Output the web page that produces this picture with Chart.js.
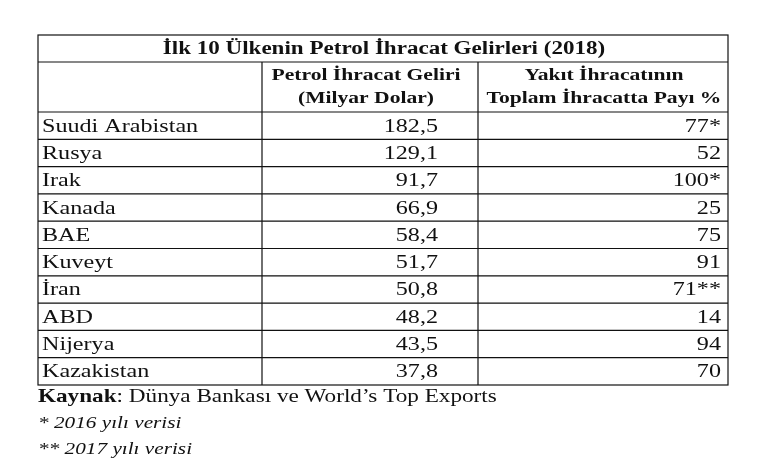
<!DOCTYPE html>
<html><head><meta charset="utf-8">
<script src="https://cdn.jsdelivr.net/npm/chart.js@4/dist/chart.umd.min.js"></script>
<style>html,body{margin:0;padding:0;background:#fff}</style></head>
<body><canvas id="c" width="768" height="469"></canvas>
<script>
const title = "İlk 10 Ülkenin Petrol İhracat Gelirleri (2018)";
const header2 = ["Petrol İhracat Geliri", "(Milyar Dolar)"];
const header3 = ["Yakıt İhracatının", "Toplam İhracatta Payı %"];
const countries = ["Suudi Arabistan","Rusya","Irak","Kanada","BAE","Kuveyt","İran","ABD","Nijerya","Kazakistan"];
const revenue = ["182,5","129,1","91,7","66,9","58,4","51,7","50,8","48,2","43,5","37,8"];
const share = ["77*","52","100*","25","75","91","71**","14","94","70"];
const sourceBold = "Kaynak";
const sourceText = ": Dünya Bankası ve World’s Top Exports";
const notes = ["* 2016 yılı verisi", "** 2017 yılı verisi"];

function txt(ctx, s, x, y, align, sx) {
  ctx.save(); ctx.translate(x, y); ctx.scale(sx, 1);
  ctx.textAlign = align; ctx.fillText(s, 0, 0); ctx.restore();
}

const tablePlugin = {
  id: 'table',
  afterDraw(chart) {
    const ctx = chart.ctx;
    const L = 38, R = 728, T = 35, c1 = 262, c2 = 478;
    const titleB = 62, headB = 112, rowH = 27.3, B = headB + rowH * countries.length;
    ctx.save();
    ctx.fillStyle = '#fff'; ctx.fillRect(0,0,768,469);
    ctx.strokeStyle = '#111'; ctx.lineWidth = 1.2; ctx.fillStyle = '#111';
    ctx.strokeRect(L, T, R - L, B - T);
    ctx.beginPath();
    ctx.moveTo(L, titleB); ctx.lineTo(R, titleB);
    ctx.moveTo(L, headB); ctx.lineTo(R, headB);
    for (let i = 1; i < countries.length; i++) { const y = headB + rowH * i; ctx.moveTo(L, y); ctx.lineTo(R, y); }
    ctx.moveTo(c1, titleB); ctx.lineTo(c1, B);
    ctx.moveTo(c2, titleB); ctx.lineTo(c2, B);
    ctx.stroke();
    ctx.textBaseline = 'middle';
    ctx.font = 'bold 18px "Liberation Serif"';
    txt(ctx, title, (L + R) / 2 + 1, (T + titleB) / 2 + 1, 'center', 1.28);
    ctx.font = 'bold 17px "Liberation Serif"';
    txt(ctx, header2[0], 366, 76, 'center', 1.27);
    txt(ctx, header2[1], 366, 99, 'center', 1.27);
    txt(ctx, header3[0], 604, 76, 'center', 1.27);
    txt(ctx, header3[1], 604, 99, 'center', 1.27);
    ctx.font = '19px "Liberation Serif"';
    countries.forEach((n, i) => {
      const y = headB + rowH * i + rowH / 2 + 1;
      txt(ctx, n, L + 4, y, 'left', 1.27);
      txt(ctx, revenue[i], 438, y, 'right', 1.27);
      txt(ctx, share[i], 721, y, 'right', 1.27);
    });
    ctx.font = 'bold 19px "Liberation Serif"';
    txt(ctx, sourceBold, L, 397, 'left', 1.22);
    const w = ctx.measureText(sourceBold).width * 1.22;
    ctx.font = '19px "Liberation Serif"';
    txt(ctx, sourceText, L + w, 397, 'left', 1.22);
    ctx.font = 'italic 17px "Liberation Serif"';
    txt(ctx, notes[0], L, 424, 'left', 1.25);
    txt(ctx, notes[1], L, 450, 'left', 1.25);
    ctx.restore();
  }
};

new Chart(document.getElementById('c'), {
  type: 'bar',
  data: { labels: countries, datasets: [{ data: [], hidden: true }] },
  options: { responsive: false, animation: false, events: [],
    plugins: { legend: { display: false }, tooltip: { enabled: false } },
    scales: { x: { display: false }, y: { display: false } } },
  plugins: [tablePlugin]
});
</script></body></html>
